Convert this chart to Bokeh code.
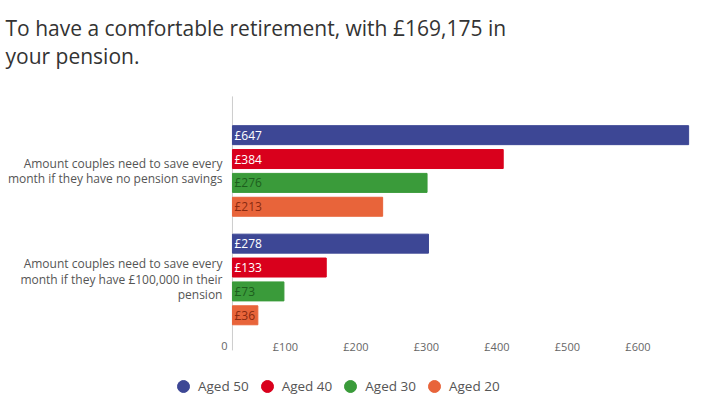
from bokeh.plotting import figure
from bokeh.models import Range1d, Legend, LegendItem, ColumnDataSource
from bokeh.core.properties import value
from bokeh.embed import file_html
from bokeh.resources import INLINE

# data
title = ["To have a comfortable retirement, with £169,175 in", "your pension."]
groups = ["Amount couples need to save every\nmonth if they have no pension savings",
          "Amount couples need to save every\nmonth if they have £100,000 in their\npension"]
ages = ["Aged 50", "Aged 40", "Aged 30", "Aged 20"]
no_savings = [647, 384, 276, 213]
with_100k = [278, 133, 73, 36]
x_ticks = [0, 100, 200, 300, 400, 500, 600]
x_labels = ["0", "£100", "£200", "£300", "£400", "£500", "£600"]

colors = ["#3d4795", "#d9001c", "#3a9b3a", "#e8643a"]
text_colors = ["#ffffff", "#ffffff", "#1d5e1d", "#8a2a10"]
offsets = [-0.33, -0.11, 0.11, 0.33]

FONT = "Open Sans"
x_start, x_end = -329, 669.5
y_bottom, y_top = 2.097, -1.571
axis_top, axis_bottom, tick_row = -0.687, 1.654, 1.6175

# whole canvas is the plot frame, texts are drawn as glyphs
p = figure(width=704, height=398, output_backend="svg", toolbar_location=None,
           x_range=Range1d(x_start, x_end), y_range=Range1d(y_bottom, y_top),
           min_border=0)
p.outline_line_color = None
p.grid.grid_line_color = None
p.xaxis.visible = False
p.yaxis.visible = False

# title
p.text(x=[x_start] * len(title), y=[y_top] * len(title), text=title,
       x_offset=5, y_offset=[27 + 28 * j for j in range(len(title))],
       text_font=value(FONT), text_font_size="21px", text_color="#333333",
       text_align="left", text_baseline="middle")

# axis line at zero
p.segment(x0=[0], y0=[axis_top], x1=[0], y1=[axis_bottom], line_color="#cccccc", line_width=1)

legend_items = []
for i in range(len(ages)):
    vals = [no_savings[i], with_100k[i]]
    src = ColumnDataSource(dict(
        y=[k + offsets[i] for k in range(len(groups))],
        right=vals,
        label=["£%d" % v for v in vals],
    ))
    p.hbar(y="y", left=0, right="right", height=0.175, color=colors[i], source=src)
    p.text(x=0, y="y", text="label", source=src, x_offset=2,
           text_font=value(FONT), text_font_size="12px", text_color=text_colors[i],
           text_baseline="middle", text_align="left")
    # hidden marker, only used for the round legend swatch
    dot = p.scatter(x=[0], y=[0], size=14, color=colors[i], visible=False)
    legend_items.append(LegendItem(label=ages[i], renderers=[dot]))

# category labels left of the axis, one text per line
gy, gtext, goff = [], [], []
for k, g in enumerate(groups):
    lines = g.split("\n")
    for j, line in enumerate(lines):
        gy.append(k)
        gtext.append(line)
        goff.append((j - (len(lines) - 1) / 2) * 15.5)
p.text(x=[0] * len(gy), y=gy, text=gtext, x_offset=-10, y_offset=goff,
       text_font=value(FONT), text_font_size="12px", text_color="#555555",
       text_align="right", text_baseline="middle")

# value tick labels, right-aligned at each tick
p.text(x=x_ticks, y=[tick_row] * len(x_ticks), text=x_labels, x_offset=-5,
       text_font=value(FONT), text_font_size="11px", text_color="#666666",
       text_align="right", text_baseline="middle")

legend = Legend(items=legend_items, orientation="horizontal", location=(168, -3),
                label_text_font=FONT, label_text_font_size="13.5px", label_text_color="#555555",
                glyph_width=30, glyph_height=30, label_standoff=0, spacing=3,
                padding=2, margin=0, border_line_color=None, background_fill_alpha=0,
                inactive_fill_alpha=0)
p.add_layout(legend, "center")

open("out.html", "w").write(file_html(p, INLINE))
